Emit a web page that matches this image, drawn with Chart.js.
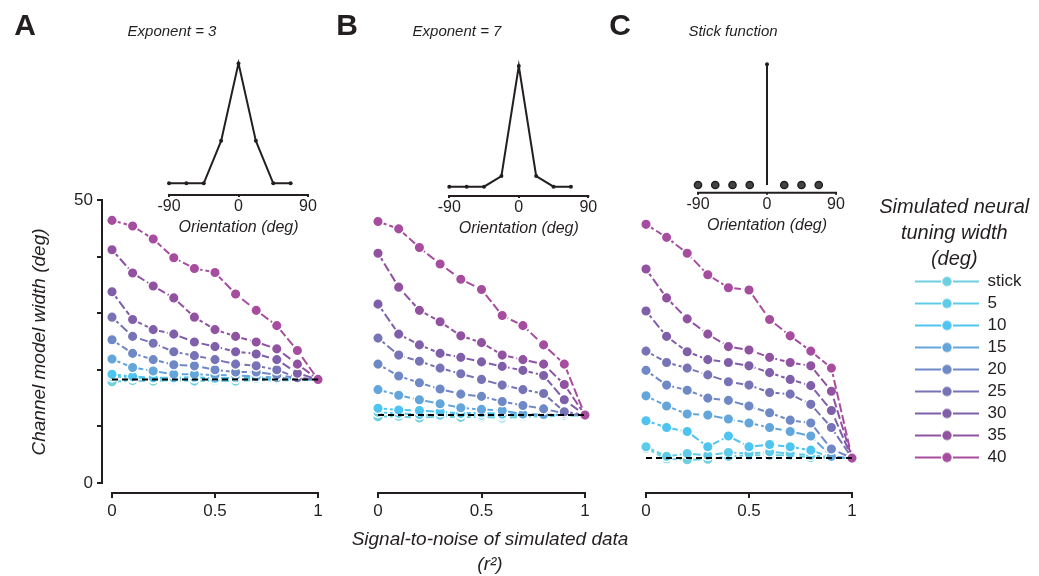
<!DOCTYPE html>
<html><head><meta charset="utf-8">
<script src="https://cdn.jsdelivr.net/npm/chart.js@4.4.1/dist/chart.umd.min.js"></script>
<style>
html,body{margin:0;padding:0;background:#fff;}
#wrap{position:relative;width:1039px;height:576px;overflow:hidden;font-family:'Liberation Sans',Arial,sans-serif;color:#231f20;}
canvas.full{position:absolute;left:0;top:0;}
#leg{position:absolute;left:860px;top:176px;}
.lbl{position:absolute;transform:translate(-50%,-50%);white-space:nowrap;line-height:1;}
.letter{font-weight:bold;font-size:30px;}
.sub{font-style:italic;font-size:15px;}
</style></head><body>
<div id="wrap">
<canvas id="pA" class="full" width="1039" height="576"></canvas>
<canvas id="pB" class="full" width="1039" height="576"></canvas>
<canvas id="pC" class="full" width="1039" height="576"></canvas>
<canvas id="iA" class="full" width="1039" height="576"></canvas>
<canvas id="iB" class="full" width="1039" height="576"></canvas>
<canvas id="iC" class="full" width="1039" height="576"></canvas>
<canvas id="leg" width="179" height="320"></canvas>
<div class="lbl letter" style="left:25px;top:25px">A</div>
<div class="lbl letter" style="left:347px;top:25px">B</div>
<div class="lbl letter" style="left:620px;top:25px">C</div>
<div class="lbl sub" style="left:172px;top:30px">Exponent = 3</div>
<div class="lbl sub" style="left:457px;top:30px">Exponent = 7</div>
<div class="lbl sub" style="left:733px;top:30px">Stick function</div>
</div>
<script>
// ---------- data ----------
const snr = [0, 0.1, 0.2, 0.3, 0.4, 0.5, 0.6, 0.7, 0.8, 0.9, 1];
const widthLabels = ['stick', '5', '10', '15', '20', '25', '30', '35', '40'];
const seriesColors = ['#6dcfe0', '#5ecbe8', '#4ec4f0', '#63a6db', '#6f88c6', '#7773b7', '#7f5fa9', '#9152a2', '#a64d9f'];
const yTicks = [0, 10, 20, 30, 40, 50];
const xTicks = [0, 0.5, 1];
const orientTicks = [-90, 0, 90];

// Panel A (exponent = 3)
const aStick = [17.9, 18.1, 18.0, 18.2, 18.0, 18.1, 18.0, 18.2, 18.1, 18.2, 18.3];
const a5  = [18.8, 18.6, 18.5, 18.4, 18.6, 18.4, 18.5, 18.4, 18.4, 18.3, 18.3];
const a10 = [19.2, 18.8, 18.6, 18.6, 18.7, 18.5, 18.6, 18.5, 18.4, 18.3, 18.3];
const a15 = [21.9, 20.4, 19.8, 19.2, 19.2, 19.1, 19.0, 18.8, 18.6, 18.4, 18.3];
const a20 = [25.3, 22.9, 21.8, 20.9, 20.7, 20.0, 19.6, 19.6, 19.1, 18.5, 18.3];
const a25 = [29.3, 25.9, 24.7, 23.2, 22.5, 21.8, 21.0, 20.7, 20.0, 18.6, 18.3];
const a30 = [33.8, 28.9, 27.1, 26.3, 24.9, 24.1, 23.2, 22.8, 21.8, 19.4, 18.3];
const a35 = [41.2, 37.1, 34.8, 32.7, 29.3, 27.1, 25.9, 24.9, 23.7, 21.0, 18.3];
const a40 = [46.4, 45.4, 43.1, 39.8, 37.9, 37.2, 33.4, 30.5, 27.8, 23.4, 18.3];
const fitA = 18.3;

// Panel B (exponent = 7)
const bStick = [11.7, 11.8, 11.5, 11.8, 11.6, 11.7, 11.5, 11.7, 11.8, 11.9, 12.0];
const b5  = [12.5, 12.3, 12.1, 12.0, 12.2, 12.0, 11.9, 12.0, 11.9, 11.9, 12.0];
const b10 = [13.2, 12.9, 12.8, 12.6, 12.3, 12.4, 12.2, 12.1, 12.0, 12.0, 12.0];
const b15 = [16.5, 15.5, 14.7, 14.0, 13.3, 13.0, 12.8, 12.2, 12.1, 12.0, 12.0];
const b20 = [21.0, 18.9, 17.7, 16.6, 15.7, 15.3, 14.4, 13.7, 13.1, 12.3, 12.0];
const b25 = [25.6, 22.6, 21.5, 20.3, 19.3, 18.3, 17.3, 16.5, 15.8, 12.6, 12.0];
const b30 = [31.6, 26.3, 24.4, 22.9, 22.2, 21.4, 20.6, 19.9, 19.0, 14.7, 12.0];
const b35 = [40.6, 34.6, 30.5, 28.5, 26.0, 24.8, 22.6, 21.8, 21.0, 17.4, 12.0];
const b40 = [46.2, 44.9, 41.6, 38.7, 36.0, 34.2, 29.6, 27.8, 24.4, 21.0, 12.0];
const fitB = 12.0;

// Panel C (stick function)
const cStick = [6.1, 4.3, 4.1, 4.2, 4.7, 4.9, 4.9, 4.9, 4.5, 4.4, 4.4];
const c5  = [6.4, 4.7, 5.2, 4.9, 5.4, 5.2, 5.5, 5.2, 4.9, 4.5, 4.4];
const c10 = [11.0, 9.8, 9.1, 6.4, 8.3, 6.4, 6.8, 6.4, 5.8, 4.5, 4.4];
const c15 = [15.4, 13.6, 12.2, 12.0, 11.3, 10.6, 9.8, 9.1, 8.3, 4.7, 4.4];
const c20 = [19.9, 17.3, 16.4, 15.0, 14.6, 13.6, 12.4, 11.1, 10.6, 6.0, 4.4];
const c25 = [23.3, 21.3, 20.3, 19.1, 17.9, 17.3, 16.0, 15.7, 13.9, 9.8, 4.4];
const c30 = [30.4, 25.9, 23.2, 21.8, 21.3, 20.7, 19.5, 18.3, 17.2, 12.8, 4.4];
const c35 = [37.8, 32.7, 29.0, 26.3, 24.1, 23.5, 22.2, 21.3, 20.7, 16.2, 4.4];
const c40 = [45.7, 43.4, 40.6, 36.8, 34.5, 34.1, 28.9, 26.0, 23.3, 20.3, 4.4];
const fitC = 4.4;

// Insets: basis functions
const orientations = [-90, -67.5, -45, -22.5, 0, 22.5, 45, 67.5];
const expo3 = [0, 0, 0, 0.354, 1, 0.354, 0, 0];
const expo7 = [0, 0, 0, 0.088, 1, 0.088, 0, 0];
const stickFn = [0, 0, 0, 0, 1, 0, 0, 0];

// ---------- rendering ----------
const INK = '#231f20';
Chart.defaults.font.family = "'Liberation Sans', Arial, sans-serif";
Chart.defaults.color = INK;

const axisLines = {
  id: 'axisLines',
  afterDraw(chart, args, o) {
    const ctx = chart.ctx, xs = chart.scales.x, ys = chart.scales.y, ca = chart.chartArea;
    ctx.save();
    ctx.strokeStyle = INK; ctx.lineWidth = o.width || 2;
    ctx.beginPath();
    ctx.moveTo(xs.getPixelForValue(o.x[0]) - 1, ca.bottom + 1);
    ctx.lineTo(xs.getPixelForValue(o.x[1]) + 1, ca.bottom + 1);
    if (o.y) {
      ctx.moveTo(ca.left - 1, ys.getPixelForValue(o.y[0]) + 1);
      ctx.lineTo(ca.left - 1, ys.getPixelForValue(o.y[1]) - 1);
    }
    ctx.stroke();
    ctx.restore();
  }
};

const PX = 5.66;            // px per degree on main panels
const yMax = 50 + (200 - 192) / PX;
const yMin = -(492 - 483) / PX;

function makePanel(id, series, fitVal, cfg) {
  const datasets = [{
    label: 'fit', data: [{x: snr[0], y: fitVal}, {x: snr[snr.length - 1], y: fitVal}],
    borderColor: '#000', borderDash: [6, 4], borderWidth: 2, pointRadius: 0, clip: false
  }];
  for (let i = series.length - 1; i >= 0; i--) {
    datasets.push({
      label: widthLabels[i],
      data: snr.map((x, j) => ({x, y: series[i][j]})),
      borderColor: seriesColors[i], backgroundColor: seriesColors[i],
      pointBackgroundColor: seriesColors[i], pointBorderColor: '#fff',
      pointBorderWidth: 1.5, pointRadius: 5.3, borderWidth: 2, borderDash: [9, 3],
      clip: false
    });
  }
  new Chart(document.getElementById(id), {
    type: 'line',
    data: {datasets},
    options: {
      responsive: false, animation: false, devicePixelRatio: 1,
      events: [],
      layout: {padding: cfg.padding},
      plugins: {legend: {display: false}, tooltip: {enabled: false},
                axisLines: {x: [0, 1], y: cfg.showY ? [0, 50] : null}},
      scales: {
        x: {
          type: 'linear', min: cfg.xMin, max: cfg.xMax,
          afterBuildTicks: s => { s.ticks = xTicks.map(v => ({value: v})); },
          afterFit: s => { s.height = 84; },
          grid: {drawOnChartArea: false, drawTicks: true, tickLength: 6, lineWidth: 2, color: INK},
          border: {display: false},
          ticks: {font: {size: 17}, color: INK, padding: 3, maxRotation: 0, autoSkip: false,
                  callback: v => String(v)},
          title: cfg.xTitle ? {display: true, text: cfg.xTitle, font: {size: 19, style: 'italic', lineHeight: 1.3}, color: INK, padding: {top: 0, bottom: -1}} : {display: false}
        },
        y: {
          type: 'linear', min: yMin, max: yMax, display: cfg.showY,
          afterBuildTicks: s => { s.ticks = yTicks.map(v => ({value: v})); },
          afterFit: s => { s.width = cfg.showY ? 75 : 0; },
          grid: {drawOnChartArea: false, drawTicks: true, tickLength: 6, lineWidth: 2, color: INK},
          border: {display: false},
          ticks: {font: {size: 17}, color: INK, padding: 4,
                  callback: v => (v === yTicks[0] || v === yTicks[yTicks.length - 1]) ? String(v) : ''},
          title: {display: true, text: 'Channel model width (deg)', font: {size: 19, style: 'italic', lineHeight: 1.2}, color: INK, padding: 0}
        }
      }
    },
    plugins: [axisLines]
  });
}

makePanel('pA', [aStick, a5, a10, a15, a20, a25, a30, a35, a40], fitA,
  {padding: {left: 28, right: 721, top: 192, bottom: 0}, showY: true, xMin: -9 / 206, xMax: 1});
makePanel('pB', [bStick, b5, b10, b15, b20, b25, b30, b35, b40], fitB,
  {padding: {left: 274.5, right: 333.5, top: 192, bottom: 0}, showY: false, xMin: -0.5, xMax: 1 + 120.5 / 207,
   xTitle: ['Signal-to-noise of simulated data', '(r\u00B2)']});
makePanel('pC', [cStick, c5, c10, c15, c20, c25, c30, c35, c40], fitC,
  {padding: {left: 646, right: 187, top: 192, bottom: 0}, showY: false, xMin: 0, xMax: 1});

function makeInset(id, datasets, cfg) {
  new Chart(document.getElementById(id), {
    type: 'line',
    data: {datasets},
    options: {
      responsive: false, animation: false, devicePixelRatio: 1, events: [],
      layout: {padding: cfg.padding},
      plugins: {legend: {display: false}, tooltip: {enabled: false}, axisLines: {x: [-90, 90], y: null, width: 2}},
      scales: {
        x: {
          type: 'linear', min: -90, max: 90,
          afterBuildTicks: s => { s.ticks = orientTicks.map(v => ({value: v})); },
          afterFit: s => { s.height = 43.6; },
          grid: {drawOnChartArea: false, drawTicks: true, tickLength: 3, lineWidth: 2, color: INK},
          border: {display: false},
          ticks: {font: {size: 16}, color: INK, padding: 0, maxRotation: 0, autoSkip: false},
          title: {display: true, text: 'Orientation (deg)', font: {size: 16, style: 'italic', lineHeight: 1.2}, color: INK, padding: 0}
        },
        y: {type: 'linear', display: false, min: cfg.yMin, max: 1.02, afterFit: s => { s.width = 0; }}
      }
    },
    plugins: [axisLines]
  });
}

const lineStyle = {borderColor: INK, backgroundColor: INK, pointBackgroundColor: INK, pointBorderColor: INK,
                   borderWidth: 2, pointRadius: 2, pointBorderWidth: 0, clip: false};

makeInset('iA', [Object.assign({data: orientations.map((x, i) => ({x, y: expo3[i]}))}, lineStyle)],
  {padding: {left: 169, right: 731, top: 61, bottom: 338.4}, yMin: -0.089});
makeInset('iB', [Object.assign({data: orientations.map((x, i) => ({x, y: expo7[i]}))}, lineStyle)],
  {padding: {left: 449.3, right: 450.7, top: 63.6, bottom: 337.4}, yMin: -0.069});
makeInset('iC', [
  Object.assign({}, lineStyle, {
    data: orientations.map((x, i) => ({x, y: stickFn[i]})).filter(p => p.y !== 1),
    showLine: false, pointRadius: 3.6, pointBackgroundColor: '#444', pointBorderColor: INK, pointBorderWidth: 1.5}),
  Object.assign({}, lineStyle, {
    data: orientations.map((x, i) => ({x, y: stickFn[i]})).filter(p => p.y === 1).flatMap(p => [{x: p.x, y: 0}, p]),
    pointRadius: [0, 2]})
], {padding: {left: 698, right: 203, top: 61.9, bottom: 340.7}, yMin: -0.0555});

function legendIcon(color) {
  const c = document.createElement('canvas');
  c.width = 64; c.height = 14;
  const g = c.getContext('2d');
  g.strokeStyle = color; g.fillStyle = color; g.lineWidth = 2;
  g.beginPath(); g.moveTo(0, 7); g.lineTo(26, 7); g.moveTo(38, 7); g.lineTo(64, 7); g.stroke();
  g.beginPath(); g.arc(32, 7, 4.7, 0, Math.PI * 2); g.fill();
  return c;
}

new Chart(document.getElementById('leg'), {
  type: 'line',
  data: {datasets: widthLabels.map((l, i) => ({label: l, data: [], borderColor: seriesColors[i], backgroundColor: seriesColors[i]}))},
  options: {
    responsive: false, animation: false, devicePixelRatio: 1, events: [],
    layout: {padding: {left: 17, right: 7.5, top: 0, bottom: 0}},
    scales: {x: {display: false}, y: {display: false}},
    plugins: {
      tooltip: {enabled: false},
      title: {display: true, text: ['Simulated neural', 'tuning width', '(deg)'],
              font: {size: 20, style: 'italic', weight: 'normal', lineHeight: 1.3}, color: INK,
              padding: {top: 18, bottom: -4}},
      legend: {
        display: true, position: 'right', align: 'start', maxWidth: 400, fullSize: false,
        labels: {
          usePointStyle: true, pointStyleWidth: 64, padding: 5, font: {size: 17}, color: INK,
          generateLabels: chart => chart.data.datasets.map((d, i) => ({
            text: d.label, pointStyle: legendIcon(d.borderColor), fillStyle: d.borderColor,
            strokeStyle: d.borderColor, lineWidth: 0, hidden: false, datasetIndex: i, fontColor: INK
          }))
        }
      }
    }
  }
});
</script>
</body></html>
